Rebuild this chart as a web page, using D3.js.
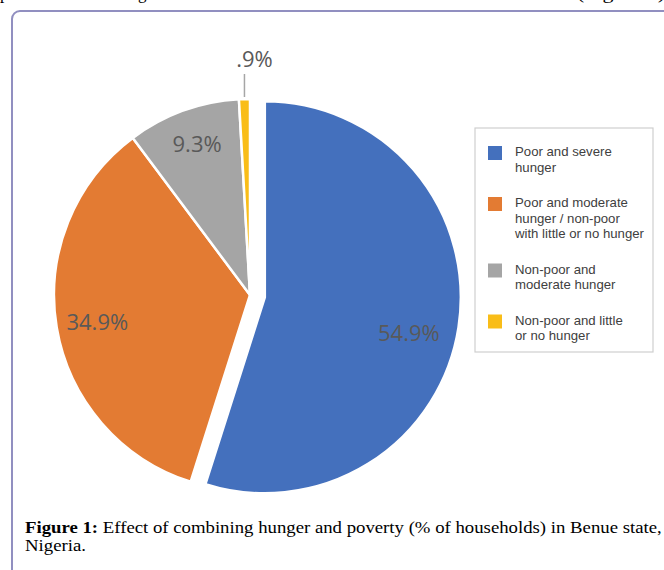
<!DOCTYPE html>
<html><head><meta charset="utf-8">
<script src="https://cdn.jsdelivr.net/npm/d3@7"></script>
<style>body{margin:0;background:#fff}svg{display:block}</style>
</head><body><svg id="chart" width="664" height="570"></svg>
<script>
// ---- data ----
const categories = [
  "Poor and severe hunger",
  "Poor and moderate hunger / non-poor with little or no hunger",
  "Non-poor and moderate hunger",
  "Non-poor and little or no hunger"
];
const legendLines = [
  ["Poor and severe", "hunger"],
  ["Poor and moderate", "hunger / non-poor", "with little or no hunger"],
  ["Non-poor and", "moderate hunger"],
  ["Non-poor and little", "or no hunger"]
];
const values = [54.9, 34.9, 9.3, 0.9];
const valueLabels = ["54.9%", "34.9%", "9.3%", ".9%"];
const colors = ["#4470bd", "#e37b33", "#a5a5a5", "#f9bd18"];
const captionBold = "Figure 1:";
const captionLine1 = " Effect of combining hunger and poverty (% of households) in Benue state,";
const captionLine2 = "Nigeria.";

// ---- layout ----
const svg = d3.select("#chart");
svg.append("rect").attr("width", 664).attr("height", 570).attr("fill", "#fff");

// cut-off text from previous paragraph (only descenders visible)
const topTxt = svg.append("g").attr("font-family", "'Liberation Serif', 'Times New Roman', serif")
  .attr("font-size", 17).attr("fill", "#000");
topTxt.append("text").attr("x", 0).attr("y", -1.5).text("p");
topTxt.append("text").attr("x", 138).attr("y", -1.5).text("g");
topTxt.append("text").attr("x", 577).attr("y", -1.5).attr("textLength", 88)
  .attr("lengthAdjust", "spacingAndGlyphs").text("(Figure 1)");

// frame
svg.append("rect").attr("x", 12).attr("y", 11).attr("width", 720).attr("height", 620)
  .attr("rx", 8).attr("fill", "none").attr("stroke", "#918fc0").attr("stroke-width", 2);

const cx = 250, cy = 295, R = 196, explode = 15;
const pie = d3.pie().sort(null).value(d => d).startAngle(0).endAngle(2 * Math.PI);
const arcs = pie(values);
const arc = d3.arc().innerRadius(0).outerRadius(R);
const explodeIdx = 0;
const offset = (d, i) => {
  if (i !== explodeIdx) return [0, 0];
  const m = (d.startAngle + d.endAngle) / 2;
  return [explode * Math.sin(m), -explode * Math.cos(m)];
};

const g = svg.append("g").attr("transform", `translate(${cx},${cy})`);
g.selectAll("path.slice").data(arcs).join("path")
  .attr("class", "slice")
  .attr("d", arc)
  .attr("transform", (d, i) => { const o = offset(d, i); return `translate(${o[0]},${o[1]})`; })
  .attr("fill", (d, i) => colors[i])
  .attr("stroke", "#fff").attr("stroke-width", 2.5).attr("stroke-linejoin", "round");

// labels
const labelArc = d3.arc().innerRadius(R * 0.79).outerRadius(R * 0.79);
const nudges = [[-9, 11], [0, 0], [0, -6], [10, 0]];
const labelFont = "'Open Sans', 'Segoe UI', sans-serif";
arcs.forEach((d, i) => {
  const o = offset(d, i);
  if (i < 3) {
    const c = labelArc.centroid(d);
    g.append("text")
      .attr("x", c[0] + o[0] + nudges[i][0])
      .attr("y", c[1] + o[1] + nudges[i][1])
      .attr("text-anchor", "middle").attr("dominant-baseline", "central")
      .attr("font-family", labelFont).attr("font-size", 22).attr("fill", "#595959")
      .text(valueLabels[i]);
  } else {
    // outside label with leader line at slice mid-angle
    const m = (d.startAngle + d.endAngle) / 2;
    const lx = R * Math.sin(m);
    g.append("line").attr("x1", lx).attr("x2", lx)
      .attr("y1", -R - 2).attr("y2", -R - 25)
      .attr("stroke", "#a6a6a6").attr("stroke-width", 1.5);
    g.append("text").attr("x", lx + nudges[i][0]).attr("y", -R - 41)
      .attr("text-anchor", "middle").attr("dominant-baseline", "central")
      .attr("font-family", labelFont).attr("font-size", 22).attr("fill", "#595959")
      .text(valueLabels[i]);
  }
});

// legend
const lg = svg.append("g");
lg.append("rect").attr("x", 475).attr("y", 128).attr("width", 178).attr("height", 224)
  .attr("fill", "#fff").attr("stroke", "#cfcfcf").attr("stroke-width", 1.2);
let ly = 146;
const lineH = 15.5;
categories.forEach((c, i) => {
  lg.append("rect").attr("x", 488).attr("y", ly).attr("width", 14).attr("height", 14)
    .attr("fill", colors[i]);
  const t = lg.append("text").attr("font-family", "'Liberation Sans', Arial, sans-serif")
    .attr("font-size", 13.2).attr("fill", "#404040");
  legendLines[i].forEach((ln, k) => {
    t.append("tspan").attr("x", 515).attr("y", ly + 10 + k * lineH).text(ln);
  });
  ly += legendLines[i].length * lineH + 20;
});

// caption (horizontally stretched like the reference)
const capG = svg.append("g").attr("transform", "translate(25,0) scale(1.104,1)");
const cap = capG.append("text").attr("font-family", "'Liberation Serif', 'Times New Roman', serif")
  .attr("font-size", 17).attr("fill", "#000");
const l1 = cap.append("tspan").attr("x", 0).attr("y", 533);
l1.append("tspan").attr("font-weight", "bold").text(captionBold);
l1.append("tspan").text(captionLine1);
cap.append("tspan").attr("x", 0).attr("y", 551).text(captionLine2);
</script>
</body></html>
